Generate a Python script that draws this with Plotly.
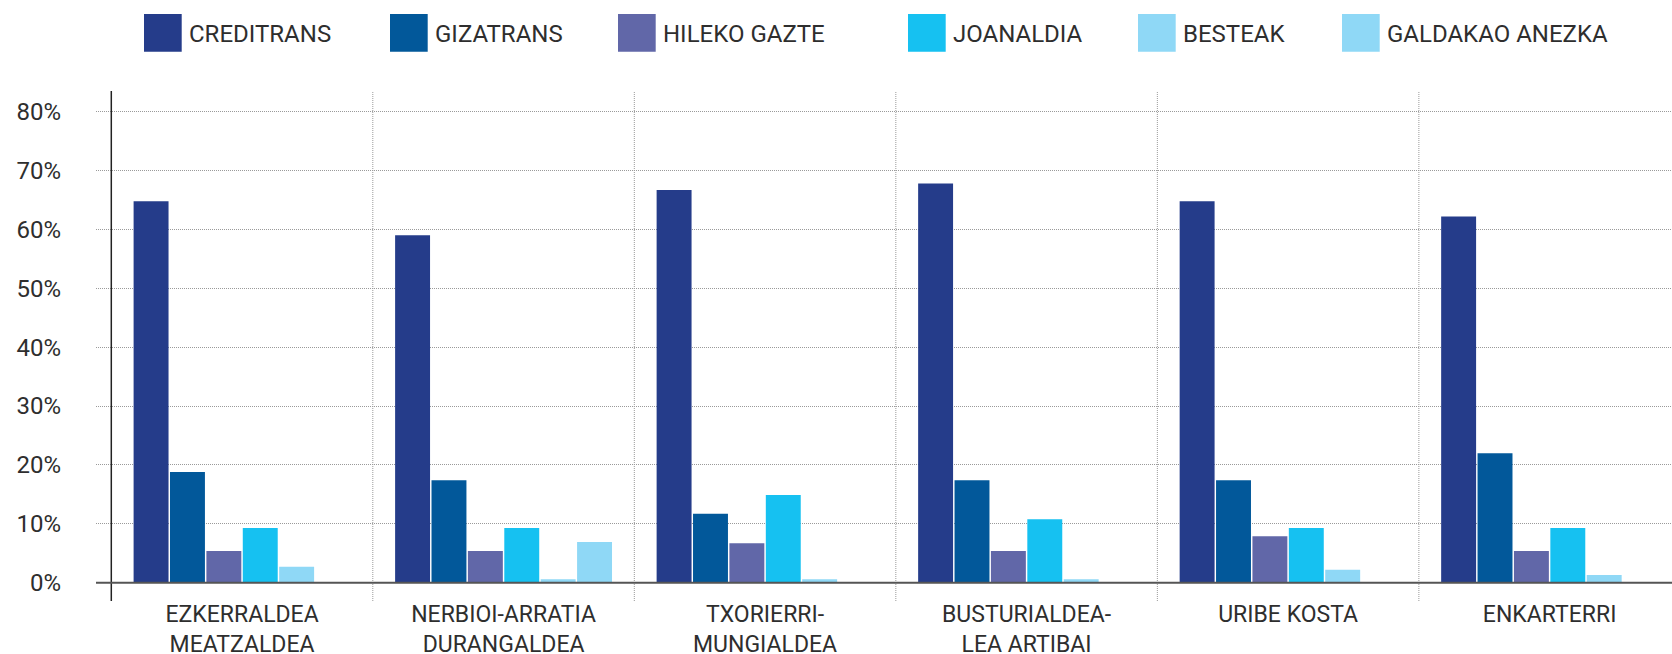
import plotly.graph_objects as go

categories = [
    "EZKERRALDEA<br>MEATZALDEA",
    "NERBIOI-ARRATIA<br>DURANGALDEA",
    "TXORIERRI-<br>MUNGIALDEA",
    "BUSTURIALDEA-<br>LEA ARTIBAI",
    "URIBE KOSTA",
    "ENKARTERRI",
]
series_names = ["CREDITRANS", "GIZATRANS", "HILEKO GAZTE", "JOANALDIA", "BESTEAK", "GALDAKAO ANEZKA"]
creditrans = [64.8, 59.0, 66.7, 67.8, 64.8, 62.2]
gizatrans = [18.8, 17.4, 11.7, 17.4, 17.4, 22.0]
hileko_gazte = [5.4, 5.4, 6.7, 5.4, 7.9, 5.4]
joanaldia = [9.3, 9.3, 14.9, 10.8, 9.3, 9.3]
besteak = [2.7, 0.6, 0.6, 0.6, 2.2, 1.3]
galdakao_anezka = [0.0, 6.9, 0.0, 0.0, 0.0, 0.0]
tick_values = [0, 10, 20, 30, 40, 50, 60, 70, 80]
tick_labels = ["0%", "10%", "20%", "30%", "40%", "50%", "60%", "70%", "80%"]

series_values = [creditrans, gizatrans, hileko_gazte, joanaldia, besteak, galdakao_anezka]
colors = ["#253C8A", "#02589A", "#6167A8", "#16C1F1", "#8FD8F6", "#8FD8F6"]

W, H = 1672, 654
ML, MR, MT, MB = 96, 0, 91, 53
PW, PH = W - ML - MR, H - MT - MB

def px_x(p):
    return (p - ML) / PW

def px_y(p):
    return (H - MB - p) / PH

fig = go.Figure()
for name, vals, col in zip(series_names, series_values, colors):
    fig.add_trace(go.Bar(name=name, x=categories, y=vals, marker=dict(color=col, line=dict(width=0)),
                         showlegend=False))

shapes = []
# category separators
for i in range(len(categories) - 1):
    shapes.append(dict(type="line", xref="x", yref="paper", x0=i + 0.5, x1=i + 0.5, y0=0, y1=1,
                       line=dict(color="#9a9a9a", width=1, dash="1px,1px"), layer="below"))
# y axis line at first category boundary
shapes.append(dict(type="line", xref="x", yref="paper", x0=-0.5, x1=-0.5, y0=0, y1=1,
                   line=dict(color="#222222", width=1.5), layer="above"))
# baseline
shapes.append(dict(type="line", xref="paper", yref="y", x0=0, x1=1, y0=0, y1=0,
                   line=dict(color="#555555", width=2), layer="above"))

annotations = []
legend_left_px = [144, 390, 618, 908, 1138, 1342]
sq = 37.7
for name, col, lx in zip(series_names, colors, legend_left_px):
    shapes.append(dict(type="rect", xref="paper", yref="paper",
                       x0=px_x(lx), x1=px_x(lx + sq), y0=px_y(51.7), y1=px_y(14),
                       fillcolor=col, line=dict(width=0), layer="above"))
    annotations.append(dict(text=name, xref="paper", yref="paper", x=px_x(lx + sq + 5), y=px_y(34.5),
                            xanchor="left", yanchor="middle", showarrow=False,
                            font=dict(family="Roboto", size=24, color="#2e2e2e")))

fig.update_layout(
    width=W, height=H,
    margin=dict(l=ML, r=MR, t=MT, b=MB, pad=0, autoexpand=False),
    plot_bgcolor="white", paper_bgcolor="white",
    barmode="group", bargap=0.165, bargroupgap=0.04,
    showlegend=False,
    font=dict(family="Roboto", size=24, color="#2e2e2e"),
    shapes=shapes, annotations=annotations,
    xaxis=dict(type="category", range=[-0.5585, 5.468], showgrid=False, showline=False,
               zeroline=False, ticks="", tickfont=dict(size=23, color="#2e2e2e"),
               ticklabelstandoff=-3, fixedrange=True, automargin=False),
    yaxis=dict(range=[-3.1, 83.5], tickvals=tick_values, ticktext=tick_labels,
               showgrid=True, gridcolor="#9a9a9a", gridwidth=1, griddash="1px,1px",
               zeroline=False, showline=False, ticks="", ticklabelstandoff=34,
               tickfont=dict(size=24, color="#2e2e2e"), fixedrange=True, automargin=False),
)

fig.write_html("out.html", config={"displayModeBar": False},
               post_script="document.body.style.margin='0';document.body.style.overflow='hidden';")
